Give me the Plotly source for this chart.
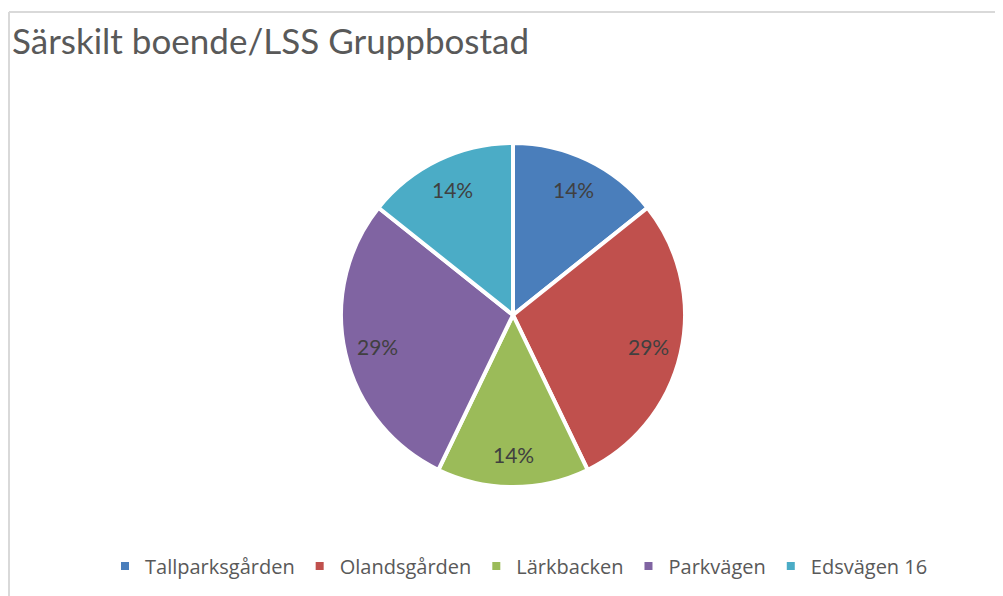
import numpy as np
import plotly.graph_objects as go

labels = ['Tallparksgården', 'Olandsgården', 'Lärkbacken', 'Parkvägen', 'Edsvägen 16']
values = [1, 2, 1, 2, 1]
slice_colors = ['#4A7EBB', '#C0504D', '#9BBB59', '#8064A2', '#4BACC6']

W, H = 1003, 596
OFF = 8  # page body margin shifts the figure by 8px
cx, cy, r = 513 - OFF, 315 - OFF, 172

fig = go.Figure()
fig.add_trace(go.Pie(
    labels=labels, values=values, sort=False, direction='clockwise', rotation=0,
    marker=dict(colors=slice_colors, line=dict(color='white', width=4)),
    textinfo='none', hoverinfo='label+percent',
    domain=dict(x=[(cx - r) / W, (cx + r) / W], y=[1 - (cy + r) / H, 1 - (cy - r) / H]),
))

# percent labels placed further out, like Excel does
vals = np.array(values, dtype=float)
frac = vals / vals.sum()
mid = (np.cumsum(frac) - frac / 2) * 2 * np.pi
for f, a in zip(frac, mid):
    rr = 0.81 * r
    fig.add_annotation(
        x=(cx + rr * np.sin(a)) / W, y=1 - (cy - rr * np.cos(a)) / H,
        xref='paper', yref='paper', xanchor='center', yanchor='middle', showarrow=False,
        text=f'{f * 100:.0f}%',
        font=dict(family='Lato, Open Sans, sans-serif', size=21, color='#404040'),
    )

# chart frame (top and left edge visible)
fx, fy = 9 - OFF, 12 - OFF
fig.add_shape(type='line', xref='paper', yref='paper', x0=fx / W, x1=1, y0=1 - fy / H, y1=1 - fy / H,
              line=dict(color='#D9D9D9', width=2))
fig.add_shape(type='line', xref='paper', yref='paper', x0=fx / W, x1=fx / W, y0=0, y1=1 - fy / H,
              line=dict(color='#D9D9D9', width=2))

fig.update_layout(
    width=W, height=H,
    margin=dict(l=0, r=0, t=0, b=0),
    paper_bgcolor='white',
    title=dict(text='Särskilt boende/LSS Gruppbostad', x=(12 - OFF) / W, xanchor='left',
               y=1 - (42 - OFF) / H, yanchor='middle',
               font=dict(family='Lato, Open Sans, sans-serif', size=35, color='#595959')),
    showlegend=True,
    legend=dict(orientation='h', x=(519 - OFF) / W, xanchor='center',
                y=1 - (566 - OFF) / H, yanchor='middle',
                font=dict(family='Open Sans, sans-serif', size=20, color='#595959'),
                itemwidth=30, tracegroupgap=0),
)

fig.write_html('out.html')
